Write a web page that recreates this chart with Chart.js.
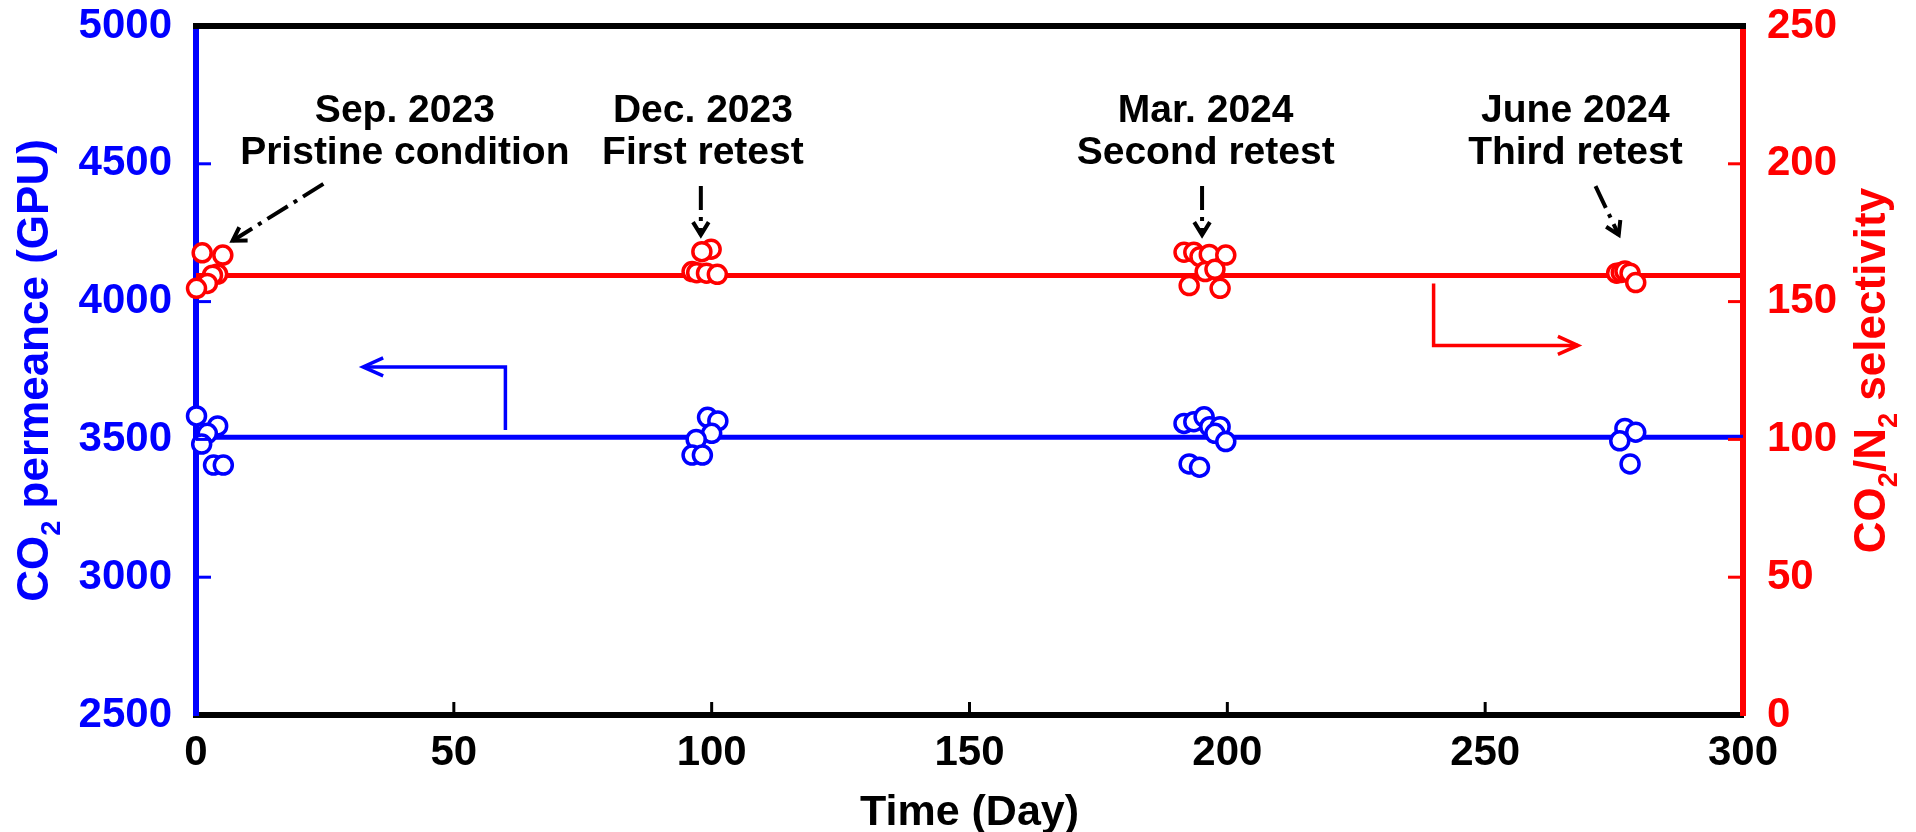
<!DOCTYPE html>
<html lang="en">
<head>
<meta charset="UTF-8">
<title>CO2 permeance and CO2/N2 selectivity</title>
<style>
  html, body { margin: 0; padding: 0; background: #fff; }
  #wrap { width: 1916px; height: 832px; position: relative; }
</style>
</head>
<body>
<div id="wrap"><canvas id="myChart"></canvas></div>

<script src="https://cdn.jsdelivr.net/npm/chart.js"></script>
<script>
// ---- data ----
const xTickValues = [0, 50, 100, 150, 200, 250, 300];
const permTickValues = [2500, 3000, 3500, 4000, 4500, 5000];
const selTickValues = [0, 50, 100, 150, 200, 250];

// CO2 permeance (GPU), left axis
const permDays = [0.1, 4.2, 2.2, 1.1, 3.4, 5.3,
  99.2, 101.2, 100.0, 97.0, 96.2, 98.2,
  191.6, 193.5, 195.5, 196.6, 198.6, 197.6, 199.7, 192.6, 194.6,
  277.1, 279.2, 276.1, 278.1];
const permValues = [3585, 3549, 3522, 3483, 3407, 3407,
  3580, 3567, 3522, 3500, 3443, 3443,
  3558, 3564, 3582, 3546, 3546, 3522, 3492, 3411, 3399,
  3540, 3526, 3495, 3411];

// CO2/N2 selectivity, right axis
const selDays = [1.2, 5.2, 4.2, 3.2, 2.2, 0.1,
  99.9, 98.1, 96.2, 97.1, 99.0, 101.1,
  191.6, 193.5, 194.7, 196.5, 199.7, 195.7, 197.6, 192.6, 198.6,
  275.5, 276.4, 277.1, 278.1, 279.2];
const selValues = [167.7, 166.9, 160.0, 159.6, 156.6, 154.8,
  169.0, 168.1, 160.9, 160.5, 160.3, 159.9,
  167.9, 167.9, 166.3, 167.1, 166.9, 160.9, 161.7, 155.8, 154.8,
  160.3, 160.6, 161.1, 160.3, 156.9];

const permMean = 3508;
const selMean = 159.5;

const eventTitles = ['Sep. 2023', 'Dec. 2023', 'Mar. 2024', 'June 2024'];
const eventNotes = ['Pristine condition', 'First retest', 'Second retest', 'Third retest'];

// ---- annotation placement (in axis units) ----
const eventLabelDays = [40.5, 98.3, 195.8, 267.5];
const eventLabelSel = [215.3, 199.9];
const eventArrows = [
  { from: [24.7, 192.7], to: [7.1, 172.1] },
  { from: [97.9, 191.9], to: [97.9, 174.2] },
  { from: [195.1, 191.9], to: [195.1, 174.2] },
  { from: [271.4, 191.9], to: [275.9, 174.2] }
];
const permAxisArrow = [[60, 3534], [60, 3763], [32.4, 3763]];
const selAxisArrow = [[240, 156.6], [240, 134.1], [268, 134.1]];

const FAMILY = "'Liberation Sans', Arial, Helvetica, sans-serif";
const BLUE = '#0000ff';
const RED = '#ff0000';

function drawSubText(ctx, parts, size) {
    let total = 0;
    parts.forEach(function (p) {
        ctx.font = 'bold ' + (p[1] ? size * 0.62 : size) + 'px ' + FAMILY;
        p.w = ctx.measureText(p[0]).width;
        total += p.w;
    });
    let x = -total / 2;
    parts.forEach(function (p) {
        ctx.font = 'bold ' + (p[1] ? size * 0.62 : size) + 'px ' + FAMILY;
        ctx.fillText(p[0], x, p[1] ? size * 0.28 : 0);
        x += p.w;
    });
}

function arrowHead(ctx, x0, y0, x1, y1, len, ang) {
    const a = Math.atan2(y1 - y0, x1 - x0);
    ctx.beginPath();
    ctx.moveTo(x1 - len * Math.cos(a - ang), y1 - len * Math.sin(a - ang));
    ctx.lineTo(x1, y1);
    ctx.lineTo(x1 - len * Math.cos(a + ang), y1 - len * Math.sin(a + ang));
    ctx.stroke();
}

const decorPlugin = {
    id: 'decor',
    afterDraw(chart) {
        const ctx = chart.ctx;
        const area = chart.chartArea;
        const xs = chart.scales.x, ys = chart.scales.y, ys2 = chart.scales.y2;
        ctx.save();

        // top frame
        ctx.strokeStyle = '#000';
        ctx.lineWidth = 6;
        ctx.beginPath();
        ctx.moveTo(area.left - 3, area.top);
        ctx.lineTo(area.right + 3, area.top);
        ctx.stroke();

        // inward ticks
        ctx.lineWidth = 3;
        ctx.strokeStyle = '#000';
        xTickValues.slice(1, -1).forEach(function (v) {
            const px = xs.getPixelForValue(v);
            ctx.beginPath(); ctx.moveTo(px, area.bottom); ctx.lineTo(px, area.bottom - 13); ctx.stroke();
        });
        ctx.strokeStyle = BLUE;
        permTickValues.slice(1, -1).forEach(function (v) {
            const py = ys.getPixelForValue(v);
            ctx.beginPath(); ctx.moveTo(area.left, py); ctx.lineTo(area.left + 15, py); ctx.stroke();
        });
        ctx.strokeStyle = RED;
        selTickValues.slice(1, -1).forEach(function (v) {
            const py = ys2.getPixelForValue(v);
            ctx.beginPath(); ctx.moveTo(area.right, py); ctx.lineTo(area.right - 15, py); ctx.stroke();
        });

        // axis titles
        const cy = (area.top + area.bottom) / 2;
        ctx.textAlign = 'left';
        ctx.textBaseline = 'alphabetic';
        ctx.fillStyle = BLUE;
        ctx.save();
        ctx.translate(48, cy);
        ctx.rotate(-Math.PI / 2);
        drawSubText(ctx, [['CO'], ['2', true], [' permeance (GPU)']], 44);
        ctx.restore();

        ctx.fillStyle = RED;
        ctx.save();
        ctx.translate(1885, cy);
        ctx.rotate(-Math.PI / 2);
        drawSubText(ctx, [['CO'], ['2', true], ['/N'], ['2', true], [' selectivity']], 44);
        ctx.restore();

        ctx.fillStyle = '#000';
        ctx.save();
        ctx.translate((area.left + area.right) / 2, 825);
        drawSubText(ctx, [['Time (Day)']], 43);
        ctx.restore();

        // event labels
        ctx.textAlign = 'center';
        ctx.font = 'bold 39px ' + FAMILY;
        eventTitles.forEach(function (t, i) {
            const px = xs.getPixelForValue(eventLabelDays[i]);
            ctx.fillText(t, px, ys2.getPixelForValue(eventLabelSel[0]));
            ctx.fillText(eventNotes[i], px, ys2.getPixelForValue(eventLabelSel[1]));
        });

        // event arrows (dash-dot)
        ctx.strokeStyle = '#000';
        ctx.lineWidth = 4;
        ctx.lineCap = 'butt';
        eventArrows.forEach(function (a) {
            const x0 = xs.getPixelForValue(a.from[0]), y0 = ys2.getPixelForValue(a.from[1]);
            const x1 = xs.getPixelForValue(a.to[0]), y1 = ys2.getPixelForValue(a.to[1]);
            ctx.setLineDash([24, 7, 4, 7]);
            ctx.beginPath(); ctx.moveTo(x0, y0); ctx.lineTo(x1, y1); ctx.stroke();
            ctx.setLineDash([]);
            arrowHead(ctx, x0, y0, x1, y1, 15, 0.55);
        });

        // axis pointer arrows
        ctx.lineWidth = 3.5;
        ctx.lineJoin = 'miter';
        [[permAxisArrow, ys, BLUE], [selAxisArrow, ys2, RED]].forEach(function (item) {
            const pts = item[0].map(function (p) { return [xs.getPixelForValue(p[0]), item[1].getPixelForValue(p[1])]; });
            ctx.strokeStyle = item[2];
            ctx.beginPath();
            ctx.moveTo(pts[0][0], pts[0][1]);
            for (let i = 1; i < pts.length; i++) ctx.lineTo(pts[i][0], pts[i][1]);
            ctx.stroke();
            const n = pts.length;
            arrowHead(ctx, pts[n - 2][0], pts[n - 2][1], pts[n - 1][0], pts[n - 1][1], 22, 0.42);
        });

        ctx.restore();
    }
};

const tickFont = { family: FAMILY, size: 42, weight: 'bold' };
const axisGrid = { display: true, drawOnChartArea: false, drawTicks: false };
const plainNumber = function (v) { return String(v); };

// fixed axis sizes so the plot area sits where it does in the figure
function fitY(width) {
    return function (s) {
        s.width = width;
        s.paddingTop = 0;
        s.paddingBottom = 0;
    };
}

const data = {
    datasets: [
        {
            label: 'CO2 permeance',
            data: permDays.map(function (d, i) { return { x: d, y: permValues[i] }; }),
            yAxisID: 'y',
            pointRadius: 9,
            pointBorderWidth: 3.5,
            borderColor: BLUE,
            backgroundColor: '#ffffff',
            order: 1,
            clip: false
        },
        {
            label: 'CO2/N2 selectivity',
            data: selDays.map(function (d, i) { return { x: d, y: selValues[i] }; }),
            yAxisID: 'y2',
            pointRadius: 9,
            pointBorderWidth: 3.5,
            borderColor: RED,
            backgroundColor: '#ffffff',
            order: 1,
            clip: false
        },
        {
            type: 'line',
            label: 'permeance mean',
            data: [{ x: xTickValues[0], y: permMean }, { x: xTickValues[xTickValues.length - 1], y: permMean }],
            yAxisID: 'y',
            borderColor: BLUE,
            borderWidth: 5,
            pointRadius: 0,
            order: 2
        },
        {
            type: 'line',
            label: 'selectivity mean',
            data: [{ x: xTickValues[0], y: selMean }, { x: xTickValues[xTickValues.length - 1], y: selMean }],
            yAxisID: 'y2',
            borderColor: RED,
            borderWidth: 5,
            pointRadius: 0,
            order: 2
        }
    ]
};

const config = {
    type: 'scatter',
    data: data,
    options: {
        responsive: true,
        maintainAspectRatio: false,
        animation: false,
        layout: { padding: { top: 26, left: 0, right: 0, bottom: 0 } },
        plugins: {
            legend: { display: false },
            tooltip: { enabled: false }
        },
        scales: {
            x: {
                type: 'linear',
                position: 'bottom',
                min: xTickValues[0],
                max: xTickValues[xTickValues.length - 1],
                ticks: { stepSize: 50, color: '#000', font: tickFont, padding: 13, maxRotation: 0, callback: plainNumber },
                grid: axisGrid,
                border: { color: '#000', width: 6 },
                afterFit: function (s) { s.height = 117; s.paddingLeft = 0; s.paddingRight = 0; }
            },
            y: {
                type: 'linear',
                position: 'left',
                min: permTickValues[0],
                max: permTickValues[permTickValues.length - 1],
                ticks: { stepSize: 500, color: BLUE, font: tickFont, padding: 24, callback: plainNumber },
                grid: axisGrid,
                border: { color: BLUE, width: 6 },
                afterFit: fitY(196)
            },
            y2: {
                type: 'linear',
                position: 'right',
                min: selTickValues[0],
                max: selTickValues[selTickValues.length - 1],
                ticks: { stepSize: 50, color: RED, font: tickFont, padding: 24, callback: plainNumber },
                grid: axisGrid,
                border: { color: RED, width: 6 },
                afterFit: fitY(173)
            }
        }
    },
    plugins: [decorPlugin]
};

const myChart = new Chart(document.getElementById('myChart'), config);
</script>
</body>
</html>
